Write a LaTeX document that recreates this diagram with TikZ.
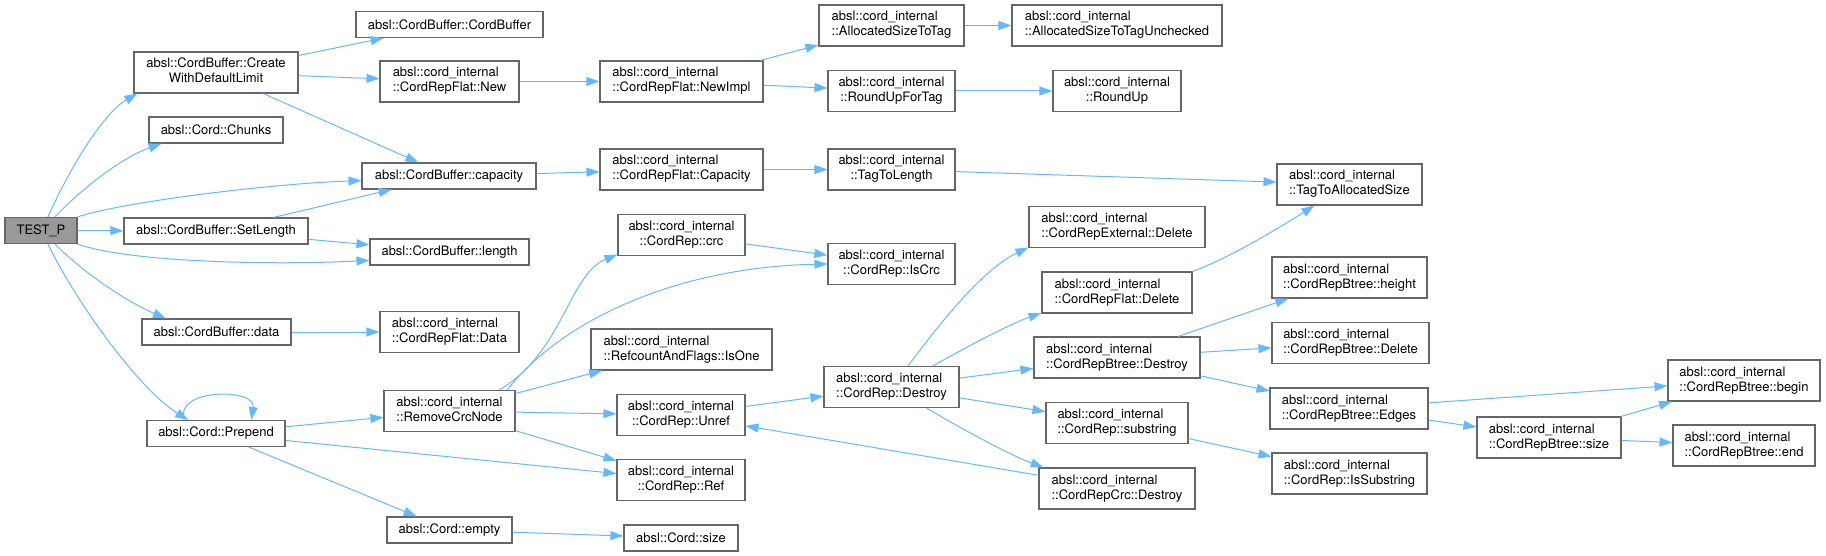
\documentclass[tikz,border=0pt]{standalone}
\usepackage{fontspec}
\setmainfont{TeX Gyre Heros}
\usetikzlibrary{arrows.meta}
\definecolor{edgecol}{HTML}{63B8FF}
\definecolor{nodeborder}{HTML}{666666}
\definecolor{rootfill}{HTML}{999999}
\newcommand\twol[2]{\begin{tabular}{@{}c@{}}\multicolumn{1}{@{}l@{}}{#1}\\#2\end{tabular}}
\newcommand\ci{absl::cord\_internal}
\begin{document}
\begin{tikzpicture}[x=1pt,y=-1pt,
  fn/.style={draw=nodeborder, line width=1.1pt, fill=white, inner sep=0pt,
    font=\fontsize{13}{15}\selectfont, align=center},
  one/.style={minimum height=26pt},
  two/.style={minimum height=41pt},
  edge/.style={draw=edgecol, line width=1pt, -{Triangle[length=13pt,width=9pt]}}]
\useasboundingbox (0,0) rectangle (1826,556);
% column 0
\node[fn,one,minimum width=72pt,fill=rootfill] (testp) at (41,230.5) {TEST\_P};
% column 1
\node[fn,two,minimum width=164pt] (create) at (216,72.5) {\twol{absl::CordBuffer::Create}{WithDefaultLimit}};
\node[fn,one,minimum width=134pt] (chunks) at (216,130) {absl::Cord::Chunks};
\node[fn,one,minimum width=184pt] (setlen) at (216,231) {absl::CordBuffer::SetLength};
\node[fn,one,minimum width=149pt] (data) at (216.5,332) {absl::CordBuffer::data};
\node[fn,one,minimum width=138pt] (prepend) at (216,433.5) {absl::Cord::Prepend};
% column 2
\node[fn,one,minimum width=187pt] (cbcb) at (449.5,24.5) {absl::CordBuffer::CordBuffer};
\node[fn,two,minimum width=139pt] (fnew) at (449.5,81.5) {\twol{\ci}{::CordRepFlat::New}};
\node[fn,one,minimum width=174pt] (capacity) at (449,176) {absl::CordBuffer::capacity};
\node[fn,one,minimum width=159pt] (length) at (449.5,252) {absl::CordBuffer::length};
\node[fn,two,minimum width=139pt] (fdata) at (449.5,332) {\twol{\ci}{::CordRepFlat::Data}};
\node[fn,two,minimum width=131pt] (rcn) at (449.5,411) {\twol{\ci}{::RemoveCrcNode}};
\node[fn,one,minimum width=125pt] (empty) at (449.5,530) {absl::Cord::empty};
% column 3
\node[fn,two,minimum width=163pt] (newimpl) at (681.5,81.5) {\twol{\ci}{::CordRepFlat::NewImpl}};
\node[fn,two,minimum width=163pt] (fcap) at (681.5,169.5) {\twol{\ci}{::CordRepFlat::Capacity}};
\node[fn,two,minimum width=127pt] (crc) at (681.5,235) {\twol{\ci}{::CordRep::crc}};
\node[fn,two,minimum width=181pt] (isone) at (681.5,349.5) {\twol{\ci}{::RefcountAndFlags::IsOne}};
\node[fn,two,minimum width=128pt] (unref) at (681,415) {\twol{\ci}{::CordRep::Unref}};
\node[fn,two,minimum width=128pt] (ref) at (681,480) {\twol{\ci}{::CordRep::Ref}};
\node[fn,one,minimum width=114pt] (csize) at (681,538) {absl::Cord::size};
% column 4
\node[fn,two,minimum width=145pt] (a2t) at (891.5,25.5) {\twol{\ci}{::AllocatedSizeToTag}};
\node[fn,two,minimum width=127pt] (rut) at (891.5,91) {\twol{\ci}{::RoundUpForTag}};
\node[fn,two,minimum width=127pt] (t2l) at (891.5,169.5) {\twol{\ci}{::TagToLength}};
\node[fn,two,minimum width=127pt] (iscrc) at (891.5,264) {\twol{\ci}{::CordRep::IsCrc}};
\node[fn,two,minimum width=135pt] (destroy) at (891.5,387) {\twol{\ci}{::CordRep::Destroy}};
% column 5
\node[fn,two,minimum width=210pt] (a2tu) at (1117,25.5) {\twol{\ci}{::AllocatedSizeToTagUnchecked}};
\node[fn,two,minimum width=128pt] (roundup) at (1117,91) {\twol{\ci}{::RoundUp}};
\node[fn,two,minimum width=176pt] (extdel) at (1117,227) {\twol{\ci}{::CordRepExternal::Delete}};
\node[fn,two,minimum width=150pt] (fdel) at (1117,292.5) {\twol{\ci}{::CordRepFlat::Delete}};
\node[fn,two,minimum width=166pt] (bdestroy) at (1117,357.5) {\twol{\ci}{::CordRepBtree::Destroy}};
\node[fn,two,minimum width=142pt] (substr) at (1117,423) {\twol{\ci}{::CordRep::substring}};
\node[fn,two,minimum width=156pt] (crcdestroy) at (1117,488.5) {\twol{\ci}{::CordRepCrc::Destroy}};
% column 6
\node[fn,two,minimum width=145pt] (t2a) at (1349.5,184.5) {\twol{\ci}{::TagToAllocatedSize}};
\node[fn,two,minimum width=155pt] (height) at (1349.5,277.5) {\twol{\ci}{::CordRepBtree::height}};
\node[fn,two,minimum width=157pt] (bdel) at (1350.5,343) {\twol{\ci}{::CordRepBtree::Delete}};
\node[fn,two,minimum width=158pt] (edges) at (1349,408.5) {\twol{\ci}{::CordRepBtree::Edges}};
\node[fn,two,minimum width=155pt] (issub) at (1349.5,473.5) {\twol{\ci}{::CordRep::IsSubstring}};
% column 7, 8
\node[fn,two,minimum width=144pt] (bsize) at (1549,437.5) {\twol{\ci}{::CordRepBtree::size}};
\node[fn,two,minimum width=152pt] (bbegin) at (1744,380.5) {\twol{\ci}{::CordRepBtree::begin}};
\node[fn,two,minimum width=142pt] (bend) at (1744,445.5) {\twol{\ci}{::CordRepBtree::end}};

% edges from TEST_P
\draw[edge] (testp.63) .. controls +(20,-45) and +(-35,20) .. (create.195);
\draw[edge] (testp.44) .. controls +(25,-27) and +(-40,14) .. (chunks.194);
\draw[edge] (testp.north east) .. controls +(45,-15) and +(-90,3) .. (capacity.183);
\draw[edge] (testp) -- (setlen);
\draw[edge] (testp.south east) .. controls +(50,18) and +(-100,5) .. (length.186);
\draw[edge] (testp.316) .. controls +(25,26) and +(-40,-17) .. (data.165);
\draw[edge] (testp.297) .. controls +(27,56) and +(-50,-31) .. (prepend.154);
% column 1 out
\draw[edge] (create) -- (cbcb);
\draw[edge] (create) -- (fnew);
\draw[edge] (create) -- (capacity);
\draw[edge] (setlen) -- (capacity);
\draw[edge] (setlen) -- (length);
\draw[edge] (data) -- (fdata);
\draw[edge] (prepend.157) .. controls +(-10,-32) and +(5,-32) .. (prepend.21);
\draw[edge] (prepend) -- (rcn);
\draw[edge] (prepend) -- (ref);
\draw[edge] (prepend) -- (empty);
% column 2 out
\draw[edge] (fnew) -- (newimpl);
\draw[edge] (capacity) -- (fcap);
\draw[edge] (rcn.23) .. controls +(63,-36) and +(-48,19) .. (crc.197);
\draw[edge] (rcn.20) .. controls +(55,-71) and +(-148,3) .. (iscrc.west);
\draw[edge] (rcn) -- (isone);
\draw[edge] (rcn) -- (unref);
\draw[edge] (rcn) -- (ref);
\draw[edge] (empty) -- (csize);
% column 3 out
\draw[edge] (newimpl) -- (a2t);
\draw[edge] (newimpl) -- (rut);
\draw[edge] (fcap) -- (t2l);
\draw[edge] (crc) -- (iscrc);
\draw[edge] (unref) -- (destroy);
% column 4 out
\draw[edge] (a2t) -- (a2tu);
\draw[edge] (rut) -- (roundup);
\draw[edge] (t2l) -- (t2a);
\draw[edge] (destroy.52) .. controls +(28,-37) and +(-48,23) .. (extdel.193);
\draw[edge] (destroy.27) .. controls +(30,-17) and +(-33,12) .. (fdel.195);
\draw[edge] (destroy) -- (bdestroy);
\draw[edge] (destroy) -- (substr);
\draw[edge] (destroy.329) .. controls +(30,18) and +(-33,-12) .. (crcdestroy.164);
% column 5 out
\draw[edge] (fdel.north east) .. controls +(38,-14) and +(-35,22) .. (t2a.211);
\draw[edge] (bdestroy) -- (height);
\draw[edge] (bdestroy) -- (bdel);
\draw[edge] (bdestroy) -- (edges);
\draw[edge] (substr) -- (issub);
\draw[edge] (crcdestroy) -- (unref);
% column 6+ out
\draw[edge] (edges) -- (bbegin);
\draw[edge] (edges) -- (bsize);
\draw[edge] (bsize) -- (bbegin);
\draw[edge] (bsize) -- (bend);
\end{tikzpicture}
\end{document}
